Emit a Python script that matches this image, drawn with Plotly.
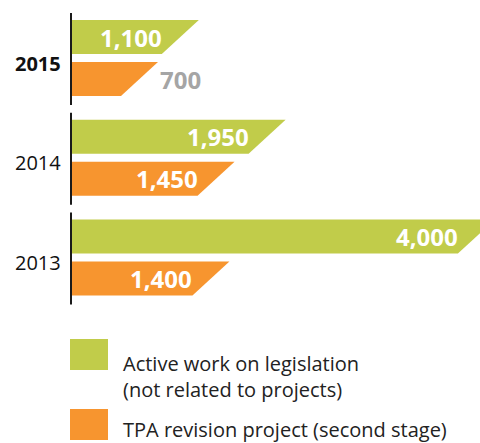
import plotly.graph_objects as go

# ---- data ----
years = ["2015", "2014", "2013"]
active_work = [1100, 1950, 4000]      # green
tpa_revision = [700, 1450, 1400]      # orange
series_names = ["Active work on legislation<br>(not related to projects)",
                "TPA revision project (second stage)"]
bold_year = "2015"

# ---- style / layout constants ----
W, H = 480, 443
ML = 68               # px where value 0 sits
K = 0.1021            # px per unit on x
BASE_PX = 4           # bars start just right of the axis line
PITCH = 99.75         # px between group centres
C0 = 58               # px centre of first group
SLANT = 37            # horizontal px of the slanted end
GREEN = "#C1CC4A"
ORANGE = "#F7952F"
GREY = "#A5A5A5"
FONT = "Open Sans"

xmax = (W - ML) / K
h = (SLANT / 2) / K
x0 = BASE_PX / K
u = 1.0 / PITCH       # one px in y units

fig = go.Figure()

def bar(g, v, top_px, bot_px, color):
    yt, yb = g + top_px * u, g + bot_px * u
    fig.add_trace(go.Scatter(
        x=[x0, v + h, v - h, x0, x0], y=[yt, yt, yb, yb, yt],
        fill="toself", fillcolor=color, mode="lines",
        line=dict(width=0, color=color), hoverinfo="skip", showlegend=False))

for g, (yr, a, t) in enumerate(zip(years, active_work, tpa_revision)):
    bar(g, a, -38, -4, GREEN)
    bar(g, t, 4, 38, ORANGE)
    # value labels
    for v, off in ((a, -21), (t, 21)):
        inside = v >= 1000
        fig.add_annotation(
            x=(v - h) if inside else (v + h), y=g + off * u,
            xref="x", yref="y", text=f"<b>{v:,}</b>", showarrow=False,
            xanchor="right" if inside else "left", yanchor="middle",
            xshift=2 if inside else 0,
            font=dict(family=FONT, size=24, color="white" if inside else GREY))
    # axis segment
    fig.add_shape(type="line", xref="x", yref="y",
                  x0=3 / K, x1=3 / K, y0=g - 45 * u, y1=g + 47 * u,
                  line=dict(color="#1a1a1a", width=2))
    # year label
    txt = f"<b>{yr}</b>" if yr == bold_year else yr
    fig.add_annotation(x=0, y=g, xref="paper", yref="y", text=txt,
                       showarrow=False, xanchor="right", yanchor="middle",
                       xshift=-5, yshift=-5,
                       font=dict(family=FONT, size=20, color="#111111"))

# ---- legend (drawn manually) ----
def px_x(px):
    return (px - ML) / (W - ML)

def px_y(px):
    return 1 - px / H

legend_items = [(series_names[0], GREEN, 339, 376.5),
                (series_names[1], ORANGE, 409, 429.5)]
for name, col, top, cy in legend_items:
    fig.add_shape(type="rect", xref="paper", yref="paper",
                  x0=px_x(70), x1=px_x(108), y0=px_y(top), y1=px_y(top + 31),
                  fillcolor=col, line=dict(width=0))
    fig.add_annotation(x=px_x(121), y=px_y(cy), xref="paper", yref="paper",
                       text=name, showarrow=False, xanchor="left",
                       yanchor="middle", align="left",
                       font=dict(family=FONT, size=20, color="#222222"))

fig.update_layout(
    width=W, height=H, margin=dict(l=ML, r=0, t=0, b=0),
    paper_bgcolor="white", plot_bgcolor="white",
    xaxis=dict(range=[0, xmax], visible=False, fixedrange=True),
    yaxis=dict(range=[(H - C0) / PITCH, -C0 / PITCH], visible=False,
               fixedrange=True),
    showlegend=False,
)
fig.write_html("out.html", config={"displayModeBar": False},
               post_script="document.body.style.margin='0';"
                           "document.body.style.overflow='hidden';")
